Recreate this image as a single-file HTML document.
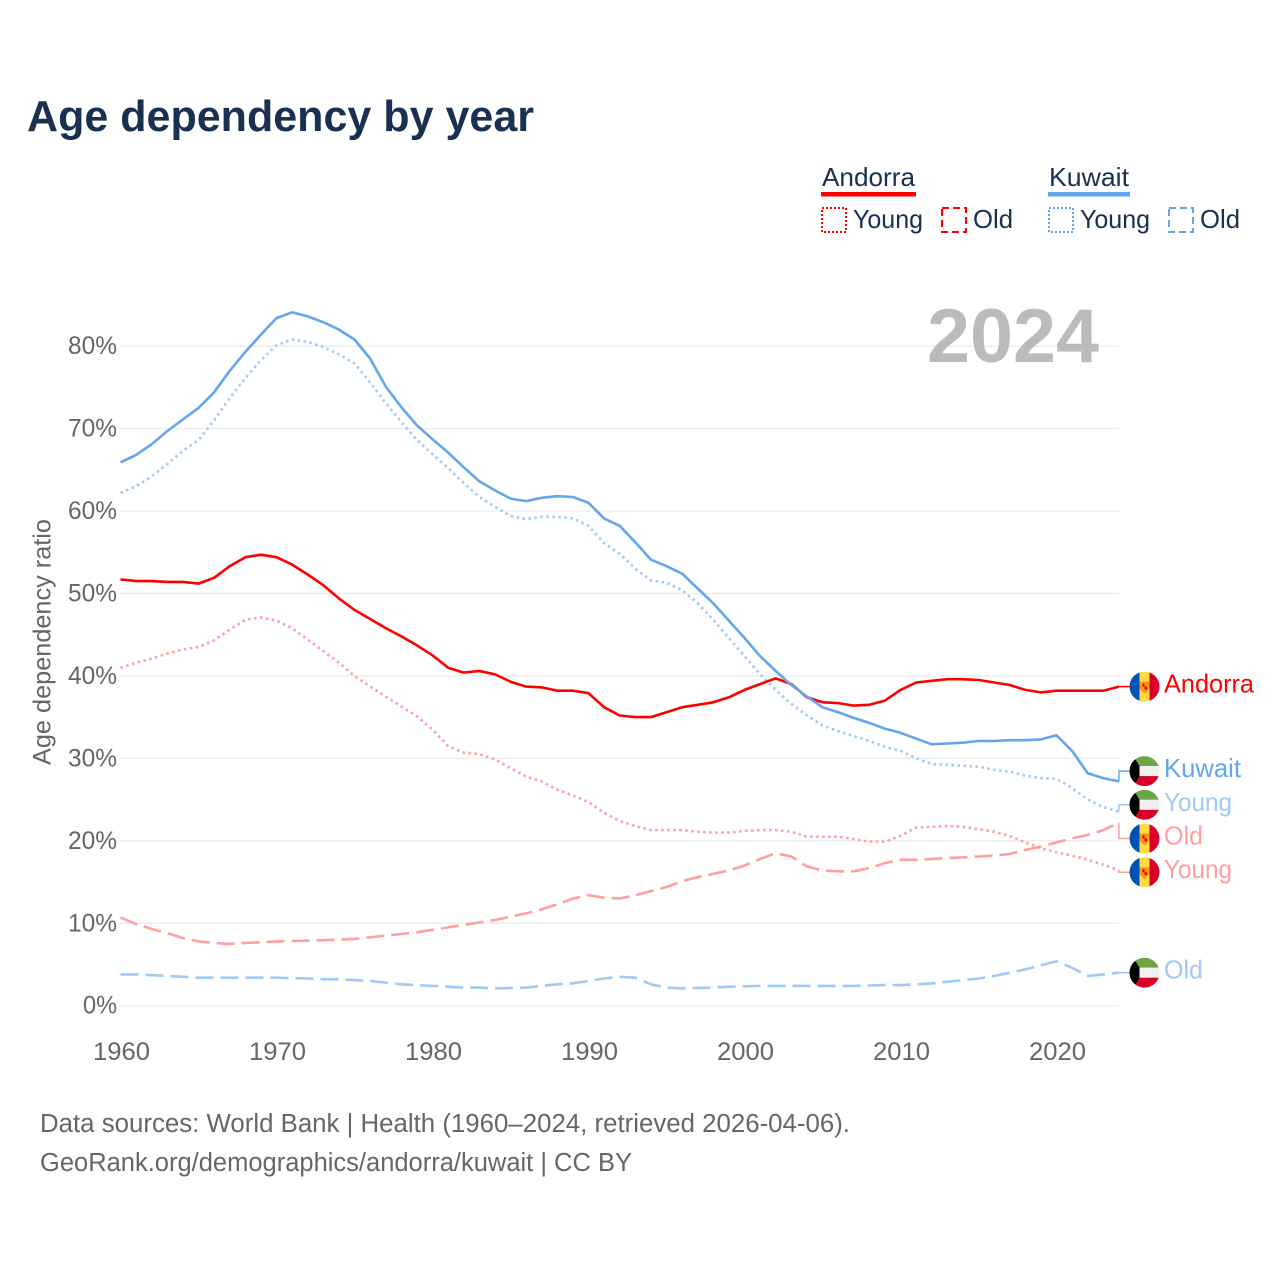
<!DOCTYPE html>
<html lang="en">
<head>
<meta charset="utf-8">
<title>Age dependency by year</title>
<style>
html,body{margin:0;padding:0;background:#fff;width:1280px;height:1280px;overflow:hidden}
svg{display:block}
text{font-family:"Liberation Sans",sans-serif}
</style>
</head>
<body>
<svg id="chart" xmlns="http://www.w3.org/2000/svg" width="1280" height="1280" viewBox="0 0 1280 1280">
  <defs>
    <clipPath id="flag-clip"><circle cx="0" cy="0" r="15"></circle></clipPath>
    <g id="flag-andorra" clip-path="url(#flag-clip)">
      <rect x="-15" y="-15" width="10" height="30" fill="#0052b4"></rect>
      <rect x="-5" y="-15" width="10" height="30" fill="#ffda44"></rect>
      <rect x="5" y="-15" width="10" height="30" fill="#d80027"></rect>
      <path d="M-5,-5 L5,-5 L5,2 L0,7 L-5,2 Z" fill="#ff9811"></path>
      <rect x="-2" y="-3" width="2" height="3" fill="#d80027"></rect>
      <rect x="0" y="0" width="2.5" height="3" fill="#d80027"></rect>
    </g>
    <g id="flag-kuwait" clip-path="url(#flag-clip)">
      <rect x="-15" y="-15" width="30" height="10" fill="#6da544"></rect>
      <rect x="-15" y="-5" width="30" height="10" fill="#f0f0f0"></rect>
      <rect x="-15" y="5" width="30" height="10" fill="#d80027"></rect>
      <path d="M-15,-15 L-11,-15 L-5,-5 L-5,5 L-11,15 L-15,15 Z" fill="#000"></path>
    </g>
  </defs>

  <text x="27" y="131" font-size="44" font-weight="700" fill="#1a3050" textLength="507" lengthAdjust="spacingAndGlyphs">Age dependency by year</text>

  <g font-size="26" fill="#1a3050">
    <g>
      <text x="822" y="186" textLength="93" lengthAdjust="spacingAndGlyphs">Andorra</text>
      <rect x="821" y="192" width="95" height="4.5" fill="#ff0000"></rect>
      <rect x="822" y="208" width="24" height="24" fill="none" stroke="#ff0000" stroke-width="2" stroke-dasharray="2 2"></rect>
      <text x="853" y="228" textLength="70" lengthAdjust="spacingAndGlyphs">Young</text>
      <rect x="942" y="208" width="24" height="24" fill="none" stroke="#ff0000" stroke-width="2" stroke-dasharray="7 4"></rect>
      <text x="973" y="228" textLength="40" lengthAdjust="spacingAndGlyphs">Old</text>
    </g>
    <g>
      <text x="1049" y="186" textLength="80" lengthAdjust="spacingAndGlyphs">Kuwait</text>
      <rect x="1048" y="192" width="82" height="4.5" fill="#63a6ee"></rect>
      <rect x="1049" y="208" width="24" height="24" fill="none" stroke="#63a6ee" stroke-width="2" stroke-dasharray="2 2"></rect>
      <text x="1080" y="228" textLength="70" lengthAdjust="spacingAndGlyphs">Young</text>
      <rect x="1169" y="208" width="24" height="24" fill="none" stroke="#63a6ee" stroke-width="2" stroke-dasharray="7 4"></rect>
      <text x="1200" y="228" textLength="40" lengthAdjust="spacingAndGlyphs">Old</text>
    </g>
  </g>

  <g id="grid"></g>
  <g id="y-ticks"></g>
  <g id="x-ticks"></g>

  <text transform="translate(50.5,765) rotate(-90)" font-size="25" fill="#666666" textLength="246" lengthAdjust="spacingAndGlyphs">Age dependency ratio</text>
  <text x="927" y="362" font-size="76" font-weight="700" fill="#bbbbbb" textLength="172" lengthAdjust="spacingAndGlyphs">2024</text>

  <g id="series"></g>
  <g id="end-labels"></g>

  <text x="40" y="1132" font-size="25.5" fill="#666666" textLength="810" lengthAdjust="spacingAndGlyphs">Data sources: World Bank | Health (1960–2024, retrieved 2026-04-06).</text>
  <text x="40" y="1171" font-size="25.5" fill="#666666" textLength="592" lengthAdjust="spacingAndGlyphs">GeoRank.org/demographics/andorra/kuwait | CC BY</text>
</svg>
<script>
const startYear = 1960;
const yTickValues = [0, 10, 20, 30, 40, 50, 60, 70, 80];
const xTickValues = [1960, 1970, 1980, 1990, 2000, 2010, 2020];

const kuwaitTotal = [65.9,66.8,68.1,69.7,71.1,72.5,74.4,77,79.3,81.4,83.4,84.1,83.6,82.9,82,80.8,78.5,75.1,72.6,70.4,68.7,67.1,65.3,63.6,62.5,61.5,61.2,61.6,61.8,61.7,61,59.1,58.2,56.2,54.1,53.3,52.4,50.6,48.8,46.7,44.6,42.4,40.6,38.9,37.5,36.2,35.6,34.9,34.3,33.6,33.1,32.4,31.7,31.8,31.9,32.1,32.1,32.2,32.2,32.3,32.8,30.9,28.2,27.6,27.2];
const kuwaitYoung = [62.2,63,64.2,65.7,67.3,68.6,71,73.7,76.1,78.3,80.1,80.8,80.5,79.9,79,77.9,75.6,73.1,70.8,68.6,66.9,65.2,63.4,61.7,60.5,59.4,59,59.3,59.3,59.1,58.2,56.1,54.8,53,51.6,51.3,50.4,48.8,46.8,44.6,42.4,40.2,38.3,36.6,35.2,34,33.3,32.7,32.1,31.4,30.9,30,29.3,29.2,29.1,29,28.6,28.4,27.9,27.6,27.5,26.4,25,24.1,23.5];
const kuwaitOld = [3.8,3.8,3.7,3.6,3.5,3.4,3.4,3.4,3.4,3.4,3.4,3.35,3.3,3.2,3.2,3.1,3,2.8,2.6,2.5,2.4,2.3,2.2,2.2,2.1,2.15,2.2,2.4,2.6,2.7,3,3.3,3.5,3.4,2.6,2.2,2.1,2.15,2.2,2.3,2.35,2.4,2.4,2.4,2.4,2.4,2.4,2.4,2.45,2.5,2.5,2.6,2.7,2.9,3.1,3.3,3.6,4,4.4,4.9,5.4,4.6,3.6,3.8,4];
const andorraTotal = [51.7,51.5,51.5,51.4,51.4,51.2,51.9,53.3,54.4,54.7,54.4,53.5,52.3,51,49.4,48,46.9,45.8,44.8,43.7,42.5,41,40.4,40.6,40.2,39.3,38.7,38.6,38.2,38.2,37.9,36.2,35.2,35,35,35.6,36.2,36.5,36.8,37.4,38.3,39,39.7,39,37.4,36.8,36.7,36.4,36.5,37,38.3,39.2,39.4,39.6,39.6,39.5,39.2,38.9,38.3,38,38.2,38.2,38.2,38.2,38.7];
const andorraYoung = [41,41.6,42.1,42.7,43.2,43.5,44.3,45.6,46.8,47.1,46.7,45.8,44.4,43,41.6,40,38.7,37.5,36.3,35.1,33.5,31.5,30.7,30.5,29.9,28.8,27.8,27.2,26.2,25.5,24.7,23.4,22.4,21.8,21.3,21.3,21.3,21.1,21,21,21.2,21.3,21.3,21.1,20.5,20.5,20.5,20.2,19.9,19.9,20.6,21.6,21.7,21.8,21.7,21.4,21.1,20.6,19.8,19.1,18.6,18.2,17.7,17.1,16.4];
const andorraOld = [10.7,9.9,9.3,8.8,8.2,7.8,7.6,7.5,7.6,7.7,7.8,7.85,7.9,7.95,8,8.1,8.3,8.5,8.7,8.9,9.2,9.5,9.8,10.1,10.4,10.8,11.2,11.7,12.3,13,13.4,13.1,13,13.4,13.9,14.4,15.1,15.6,16,16.4,17,17.8,18.5,18.1,16.9,16.4,16.3,16.3,16.7,17.3,17.7,17.7,17.8,17.9,18,18.1,18.2,18.4,18.9,19.3,19.8,20.3,20.7,21.3,22.2];

const NS = 'http://www.w3.org/2000/svg';
const xScale = year => 120.5 + (year - startYear) * 15.6;
const yScale = pct => 1005.7 - pct * 8.245;

function make(tag, parent) {
  const el = document.createElementNS(NS, tag);
  parent.appendChild(el);
  return el;
}

const gridLayer = document.getElementById('grid');
const yTickLayer = document.getElementById('y-ticks');
const xTickLayer = document.getElementById('x-ticks');
const seriesLayer = document.getElementById('series');
const labelLayer = document.getElementById('end-labels');

yTickValues.forEach(v => {
  const line = make('line', gridLayer);
  
  
  line.setAttribute('x1', 120);
  line.setAttribute('x2', 1119);
  line.setAttribute('y1', yScale(v));
  line.setAttribute('y2', yScale(v));
  line.setAttribute('stroke', '#eeeeee');
  line.setAttribute('stroke-width', 1.5);

  const label = make('text', yTickLayer);
  
  
  label.setAttribute('x', 117 - (v === 0 ? 34 : 49));
  label.setAttribute('y', yScale(v) + 8);
  label.setAttribute('font-size', 25);
  label.setAttribute('fill', '#666666');
  label.setAttribute('textLength', v === 0 ? 34 : 49);
  label.setAttribute('lengthAdjust', 'spacingAndGlyphs');
  label.textContent = v + '%';
});

xTickValues.forEach(y => {
  const label = make('text', xTickLayer);
  
  
  label.setAttribute('x', xScale(y) - 27.5);
  label.setAttribute('y', 1060);
  label.setAttribute('font-size', 25);
  label.setAttribute('fill', '#666666');
  label.setAttribute('textLength', 57);
  label.setAttribute('lengthAdjust', 'spacingAndGlyphs');
  label.textContent = y;
});

const seriesList = [
  { id: 'andorra-old', values: andorraOld, color: '#ff9f9f', dash: '18 7', label: 'Old', flag: 'flag-andorra' },
  { id: 'kuwait-old', values: kuwaitOld, color: '#a1c9f5', dash: '18 7', label: 'Old', flag: 'flag-kuwait' },
  { id: 'andorra-young', values: andorraYoung, color: '#ff9f9f', dash: '2.5 3.5', label: 'Young', flag: 'flag-andorra' },
  { id: 'kuwait-young', values: kuwaitYoung, color: '#a1c9f5', dash: '2.5 3.5', label: 'Young', flag: 'flag-kuwait' },
  { id: 'andorra-total', values: andorraTotal, color: '#ff0000', dash: '', label: 'Andorra', flag: 'flag-andorra' },
  { id: 'kuwait-total', values: kuwaitTotal, color: '#63a6ee', dash: '', label: 'Kuwait', flag: 'flag-kuwait' }
];
const labelWidths = { Andorra: 90, Kuwait: 77, Young: 68, Old: 39 };

seriesList.forEach(s => {
  const path = make('polyline', seriesLayer);
  
  
  path.setAttribute('fill', 'none');
  path.setAttribute('stroke', s.color);
  path.setAttribute('stroke-width', 2.6);
  path.setAttribute('stroke-linejoin', 'round');
  if (s.dash) path.setAttribute('stroke-dasharray', s.dash);
  path.setAttribute('points', s.values.map((v, i) => xScale(startYear + i).toFixed(1) + ',' + yScale(v).toFixed(1)).join(' '));
});

/* place end labels: collide-and-centre so the flags never overlap */
const GAP = 33.7;
const ends = seriesList.map(s => ({ s: s, y: yScale(s.values[s.values.length - 1]) })).sort((a, b) => a.y - b.y);
let clusters = ends.map(e => ({ items: [e], mean: e.y }));
let merged = true;
while (merged) {
  merged = false;
  for (let i = 0; i < clusters.length - 1; i++) {
    const a = clusters[i], b = clusters[i + 1];
    const aBottom = a.mean + (a.items.length - 1) * GAP / 2;
    const bTop = b.mean - (b.items.length - 1) * GAP / 2;
    if (bTop - aBottom < GAP) {
      const items = a.items.concat(b.items);
      clusters.splice(i, 2, { items: items, mean: items.reduce((t, e) => t + e.y, 0) / items.length });
      merged = true;
      break;
    }
  }
}
clusters.forEach(c => {
  c.items.forEach((e, i) => {
    e.labelY = c.mean + (i - (c.items.length - 1) / 2) * GAP;
  });
});

const endX = xScale(startYear + kuwaitTotal.length - 1);
ends.forEach(e => {
  const s = e.s;
  const link = make('polyline', labelLayer);
  
  
  link.setAttribute('fill', 'none');
  link.setAttribute('stroke', s.color);
  link.setAttribute('stroke-width', 1.5);
  link.setAttribute('points', endX + ',' + e.y.toFixed(1) + ' ' + endX + ',' + e.labelY.toFixed(1) + ' 1130,' + e.labelY.toFixed(1));

  const flag = make('use', labelLayer);
  
  
  flag.setAttribute('href', '#' + s.flag);
  flag.setAttribute('transform', 'translate(1144.5,' + e.labelY.toFixed(1) + ')');

  const text = make('text', labelLayer);
  
  
  text.setAttribute('x', 1164);
  text.setAttribute('y', (e.labelY + 6).toFixed(1));
  text.setAttribute('font-size', 26);
  text.setAttribute('fill', s.color);
  text.setAttribute('textLength', labelWidths[s.label]);
  text.setAttribute('lengthAdjust', 'spacingAndGlyphs');
  text.textContent = s.label;
});
</script>
</body>
</html>
